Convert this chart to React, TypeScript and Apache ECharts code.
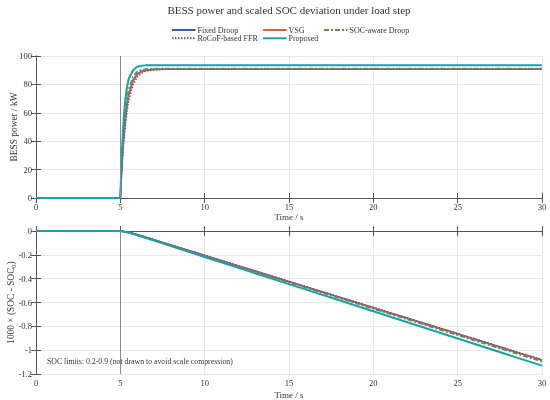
import React, { useEffect, useRef } from "react";
import * as echarts from "echarts";

const seriesNames = ["Fixed Droop", "VSG", "SOC-aware Droop", "RoCoF-based FFR", "Proposed"];
const seriesColors = ["#2f5fa8", "#d9623a", "#4f9a4f", "#7a4aa0", "#1aa0a6"];

// Top panel: BESS power (kW)
const tPower = [0, 5, 5.05, 5.1, 5.2, 5.3, 5.4, 5.5, 5.75, 6, 6.25, 6.5, 7, 7.5, 8, 9, 10, 12, 15, 20, 25, 30];
const pFixed = [0, 0, 14, 26, 44, 57, 67, 73.5, 83, 87.5, 89.2, 90.1, 90.6, 90.7, 90.8, 90.8, 90.8, 90.8, 90.8, 90.8, 90.8, 90.8];
const pVSG = [0, 0, 12, 24, 42, 55, 65, 72, 82, 86.8, 88.8, 89.8, 90.5, 90.7, 90.8, 90.8, 90.8, 90.8, 90.8, 90.8, 90.8, 90.8];
const pSOC = [0, 0, 16, 29, 49, 62, 71, 77, 85.5, 89, 90.3, 90.8, 91.1, 91.2, 91.2, 91.2, 91.2, 91.2, 91.2, 91.2, 91.2, 91.2];
const pRoCoF = [0, 0, 11, 22, 39, 51, 61, 68.5, 79.5, 85, 87.8, 89.2, 90.2, 90.5, 90.6, 90.6, 90.6, 90.6, 90.6, 90.6, 90.6, 90.6];
const pProp = [0, 0, 19, 34, 56, 70, 78.5, 84, 90, 92.4, 93.1, 93.4, 93.5, 93.5, 93.5, 93.5, 93.5, 93.5, 93.5, 93.5, 93.5, 93.5];

// Bottom panel: 1000 x (SOC - SOC0)
const tSoc = [0, 5, 5.5, 6, 7, 10, 15, 20, 25, 30];
const sFixed = [0, 0, -0.011, -0.031, -0.075, -0.206, -0.426, -0.645, -0.865, -1.085];
const sVSG = [0, 0, -0.010, -0.030, -0.074, -0.205, -0.424, -0.644, -0.863, -1.083];
const sSOC = [0, 0, -0.012, -0.032, -0.077, -0.210, -0.432, -0.653, -0.875, -1.097];
const sRoCoF = [0, 0, -0.009, -0.028, -0.072, -0.203, -0.422, -0.641, -0.860, -1.080];
const sProp = [0, 0, -0.014, -0.036, -0.081, -0.218, -0.446, -0.674, -0.902, -1.130];

const xTicks = { min: 0, max: 30, interval: 5 };
const powerTicks = { min: 0, max: 100, interval: 20 };
const socTicks = { min: -1.2, max: 0, interval: 0.2 };

const stepTime = 5;
const titleText = "BESS power and scaled SOC deviation under load step";
const noteText = "SOC limits: 0.2-0.9 (not drawn to avoid scale compression)";

const FONT = "Liberation Serif";

const lineTypes: any[] = ["solid", "solid", [5, 2, 2, 2], [1.5, 1.5], "solid"];
const lineWidths = [1.6, 1.6, 1.6, 1.4, 2];

function zip(t: number[], v: number[]) {
  return t.map((x, i) => [x, v[i]]);
}

export default function App() {
  const ref = useRef<HTMLDivElement>(null);
  useEffect(() => {
    if (!ref.current) return;
    const chart = echarts.init(ref.current, undefined, { renderer: "svg" });
    const axisLine = { show: true, lineStyle: { color: "#555", width: 1 } };
    const tick = { show: true, inside: true, length: 5, lineStyle: { color: "#555" } };
    const label = { color: "#333", fontFamily: FONT, fontSize: 8.5, margin: 4 };
    const split = { show: true, lineStyle: { color: "#e8e8e8", width: 1 } };

    const mkX = (gridIndex: number, position: "top" | "bottom", primary: boolean, nameGap: number) => ({
      type: "value",
      gridIndex,
      position,
      ...xTicks,
      axisLine,
      axisTick: tick,
      axisLabel: primary ? label : { show: false },
      splitLine: primary ? split : { show: false },
      name: primary ? "Time / s" : "",
      nameLocation: "middle",
      nameGap,
      nameMoveOverlap: false,
      nameTextStyle: { color: "#333", fontFamily: FONT, fontSize: 9 },
    });
    const mkY = (gridIndex: number, ticks: any, position: "left" | "right", primary: boolean, name: any, nameGap: number) => ({
      type: "value",
      gridIndex,
      position,
      ...ticks,
      axisLine,
      axisTick: tick,
      axisLabel: primary ? { ...label, margin: 4 } : { show: false },
      splitLine: primary ? split : { show: false },
      name: primary ? name : "",
      nameLocation: "middle",
      nameGap,
      nameMoveOverlap: false,
      nameTextStyle: {
        color: "#333",
        fontFamily: FONT,
        fontSize: 9.4,
        rich: { sub: { fontSize: 6.5, verticalAlign: "bottom", padding: [5, 0, 0, 0], color: "#333", fontFamily: FONT } },
      },
    });

    const powerData = [pFixed, pVSG, pSOC, pRoCoF, pProp];
    const socData = [sFixed, sVSG, sSOC, sRoCoF, sProp];
    const markLine = {
      silent: true,
      symbol: "none",
      label: { show: false },
      lineStyle: { color: "#8a8a8a", width: 1, type: "solid" },
      data: [{ xAxis: stepTime }],
    };
    const series: any[] = [];
    seriesNames.forEach((name, i) => {
      series.push({
        name,
        type: "line",
        xAxisIndex: 0,
        yAxisIndex: 0,
        showSymbol: false,
        symbol: "none",
        color: seriesColors[i],
        lineStyle: { color: seriesColors[i], width: lineWidths[i], type: lineTypes[i] },
        data: zip(tPower, powerData[i]),
        markLine: i === 0 ? markLine : undefined,
        z: i === 4 ? 3 : 2,
      });
    });
    seriesNames.forEach((name, i) => {
      series.push({
        name,
        type: "line",
        xAxisIndex: 2,
        yAxisIndex: 2,
        showSymbol: false,
        symbol: "none",
        color: seriesColors[i],
        lineStyle: { color: seriesColors[i], width: lineWidths[i], type: lineTypes[i] },
        data: zip(tSoc, socData[i]),
        markLine: i === 0 ? markLine : undefined,
        z: i === 4 ? 3 : 2,
      });
    });

    const legendPos = [
      [171, 26],
      [262, 26],
      [323, 26],
      [171, 34.3],
      [262, 34.3],
    ];
    const legends = seriesNames.map((n, i) => ({
      data: [n],
      left: legendPos[i][0],
      top: legendPos[i][1],
      padding: 0,
      itemWidth: 23.5,
      itemHeight: 8,
      itemGap: 0,
      itemStyle: { opacity: 0 },
      textStyle: { color: "#333", fontFamily: FONT, fontSize: 8, padding: [0, 0, 0, -3] },
      selectedMode: false,
    }));

    const gridCommon = { left: 36, right: 8, containLabel: false, outerBoundsMode: "none" };

    chart.setOption({
      animation: false,
      legend: legends,
      grid: [
        { ...gridCommon, top: 56, height: 142 },
        { ...gridCommon, top: 231, height: 143 },
      ],
      xAxis: [mkX(0, "bottom", true, 14.5), mkX(0, "top", false, 0), mkX(1, "bottom", true, 16), mkX(1, "top", false, 0)],
      yAxis: [
        mkY(0, powerTicks, "left", true, "BESS power / kW", 18),
        mkY(0, powerTicks, "right", false, "", 0),
        mkY(1, socTicks, "left", true, "1000 × (SOC - SOC{sub|0})", 19),
        mkY(1, socTicks, "right", false, "", 0),
      ],
      series,
      graphic: [
        {
          type: "text",
          x: 289,
          y: 10,
          style: {
            text: titleText,
            fill: "#333",
            font: `11px "${FONT}"`,
            align: "center",
            verticalAlign: "middle",
          },
        },
        {
          type: "text",
          x: 47,
          y: 361,
          style: { text: noteText, fill: "#333", font: `7.8px "${FONT}"`, verticalAlign: "middle" },
        },
      ],
    });
    return () => chart.dispose();
  }, []);
  return <div ref={ref} style={{ position: "fixed", left: 0, top: 0, width: 550, height: 400 }} />;
}
